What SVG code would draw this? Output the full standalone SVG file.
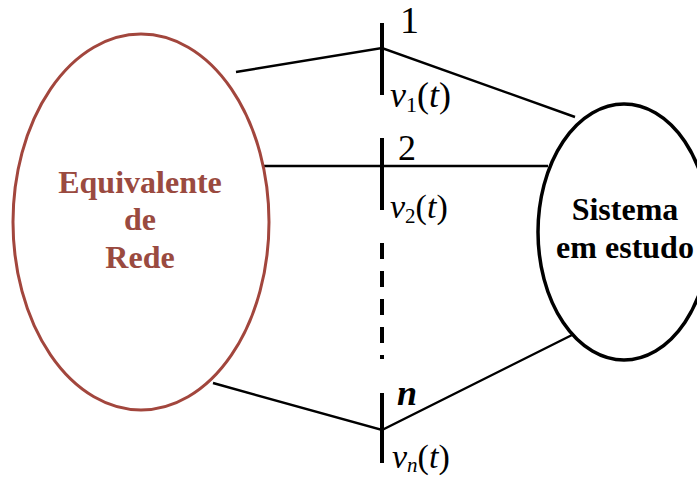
<svg xmlns="http://www.w3.org/2000/svg" width="697" height="478" viewBox="0 0 697 478">
<style>
.bus{stroke:#000;stroke-width:4;fill:none}
.ln{stroke:#000;stroke-width:2.4;fill:none}
text{font-family:'Liberation Serif','Times New Roman','DejaVu Serif',serif}
.it{font-style:italic}
.big{font-weight:bold;font-size:32px;text-anchor:middle}
</style>
<rect width="697" height="478" fill="#fff"/>
<g id="connectors">
<polyline class="ln" points="236,72 382,48 575,117"/>
<line class="ln" x1="262" y1="166" x2="548" y2="166"/>
<polyline class="ln" points="213,383 382,430 572,335"/>
</g>
<g id="equivalente">
<ellipse cx="141" cy="222" rx="128" ry="188" fill="none" stroke="#A2463D" stroke-width="3"/>
<text class="big" font-family="Liberation Serif, serif" fill="#9A4A40" x="140" y="193">Equivalente</text>
<text class="big" font-family="Liberation Serif, serif" fill="#9A4A40" x="140" y="230">de</text>
<text class="big" font-family="Liberation Serif, serif" fill="#9A4A40" x="140" y="268">Rede</text>
</g>
<g id="sistema">
<ellipse cx="624" cy="232" rx="86" ry="128" fill="none" stroke="#000" stroke-width="3.5"/>
<text class="big" font-family="Liberation Serif, serif" fill="#000" x="625" y="220">Sistema</text>
<text class="big" font-family="Liberation Serif, serif" fill="#000" x="625" y="258">em estudo</text>
</g>
<g id="bus1">
<line class="bus" x1="382" y1="23" x2="382" y2="95"/>
<text font-family="Liberation Serif, serif" x="400" y="33" font-size="38">1</text>
<text font-family="Liberation Serif, serif" x="390" y="107" font-size="36"><tspan class="it">v</tspan><tspan font-size="22" dy="5">1</tspan><tspan dy="-5">(</tspan><tspan class="it">t</tspan><tspan>)</tspan></text>
</g>
<g id="bus2">
<line class="bus" x1="382" y1="138" x2="382" y2="210"/>
<text font-family="Liberation Serif, serif" x="398" y="160" font-size="36">2</text>
<text font-family="Liberation Serif, serif" x="390" y="218" font-size="34"><tspan class="it">v</tspan><tspan font-size="21" dy="5">2</tspan><tspan dy="-5">(</tspan><tspan class="it">t</tspan><tspan>)</tspan></text>
<line x1="382" y1="243" x2="382" y2="359" stroke="#000" stroke-width="4" stroke-dasharray="16 12"/>
</g>
<g id="busn">
<line class="bus" x1="382" y1="393" x2="382" y2="463"/>
<text font-family="Liberation Serif, serif" class="it" x="397" y="405" font-size="36" font-weight="bold">n</text>
<text font-family="Liberation Serif, serif" x="392" y="468" font-size="34"><tspan class="it">v</tspan><tspan class="it" font-size="21" dy="4">n</tspan><tspan dy="-4">(</tspan><tspan class="it">t</tspan><tspan>)</tspan></text>
</g>
</svg>
